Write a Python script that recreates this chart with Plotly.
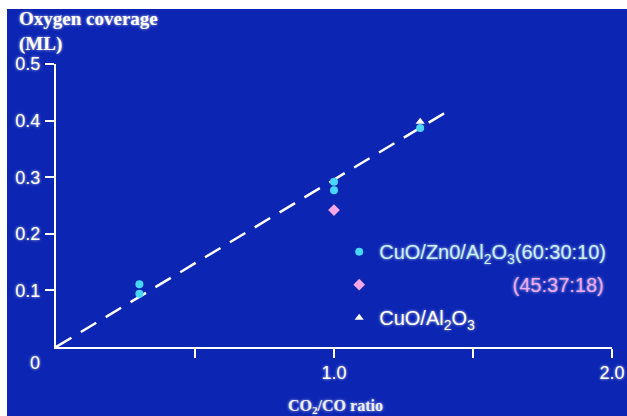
import plotly.graph_objects as go

# ---- data ----
zn_x = [0.3, 0.3, 1.0, 1.0, 1.31]
zn_y = [0.111, 0.094, 0.292, 0.277, 0.387]
mid_x = [1.0]
mid_y = [0.242]
al_x = [1.31]
al_y = [0.398]
fit_x = [0.0, 1.4]
fit_y = [0.0, 0.414]
x_ticks = [0.5, 1.0, 1.5, 2.0]
x_tick_labels = ["", "1.0", "", "2.0"]
y_ticks = [0.1, 0.2, 0.3, 0.4, 0.5]
y_tick_labels = ["0.1", "0.2", "0.3", "0.4", "0.5"]

BG = "#0c25b3"
GLOW = "0px 0px 3px rgba(255,255,255,0.75)"
SANS = "Liberation Sans, Arial, sans-serif"
SERIF = "Liberation Serif, Times New Roman, serif"
NB = "\u00a0"

fig = go.Figure()
fig.add_trace(go.Scatter(x=fit_x, y=fit_y, mode="lines", showlegend=False,
                         line=dict(color="white", width=2.5, dash="18px,11px")))
fig.add_trace(go.Scatter(
    x=zn_x, y=zn_y, mode="markers", legendgroup="a",
    name="<span style='color:#c4f2ff'>CuO/Zn0/Al<sub>2</sub>O<sub>3</sub>(60:30:10)</span>",
    marker=dict(symbol="circle", size=8, color="#48d6ff")))
fig.add_trace(go.Scatter(
    x=mid_x, y=mid_y, mode="markers", legendgroup="b",
    name="<span style='color:#f0a8f0'>" + NB * 24 + "(45:37:18)</span>",
    marker=dict(symbol="diamond", size=9, color="#f4a6e8")))
fig.add_trace(go.Scatter(
    x=al_x, y=al_y, mode="markers", legendgroup="c",
    name="CuO/Al<sub>2</sub>O<sub>3</sub>",
    marker=dict(symbol="triangle-up", size=8, color="white")))

axis_common = dict(showline=True, linecolor="white", linewidth=2, showgrid=False,
                   zeroline=False, ticks="outside", tickcolor="white", ticklen=9,
                   tickwidth=2,
                   tickfont=dict(family=SANS, size=18, color="white", shadow=GLOW))

fig.update_xaxes(range=[0, 2.0], tickvals=x_ticks, ticktext=x_tick_labels,
                 ticklabelstandoff=-1, **axis_common)
fig.update_yaxes(range=[0, 0.5], tickvals=y_ticks, ticktext=y_tick_labels,
                 ticklabelstandoff=1, **axis_common)

fig.update_layout(
    width=627, height=416,
    margin=dict(l=56, r=15, t=64, b=69, autoexpand=False),
    paper_bgcolor=BG, plot_bgcolor=BG,
    legend=dict(xref="container", yref="container", x=0.541, y=0.442,
                xanchor="left", yanchor="top",
                bgcolor="rgba(0,0,0,0)", tracegroupgap=4,
                font=dict(family=SANS, size=20, color="white", shadow=GLOW)),
    annotations=[
        dict(text="<b>Oxygen coverage<br>(ML)</b>", xref="paper", yref="paper",
             x=-0.07, y=1.205, xanchor="left", yanchor="top", align="left",
             showarrow=False,
             font=dict(family=SERIF, size=19, color="white", shadow=GLOW)),
        dict(text="<b>CO<sub>2</sub>/CO ratio</b>", xref="paper", yref="paper",
             x=0.503, y=-0.212, xanchor="center", yanchor="middle",
             showarrow=False,
             font=dict(family=SERIF, size=16, color="#eef0ff", shadow=GLOW)),
        dict(text="0", xref="paper", yref="paper", x=-0.038, y=-0.058,
             xanchor="center", yanchor="middle", showarrow=False,
             font=dict(family=SANS, size=18, color="white", shadow=GLOW)),
    ],
    shapes=[
        dict(type="rect", xref="paper", yref="paper", layer="above",
             x0=-56 / 556, x1=1 + 15 / 556, y0=1 + (64 - 9) / 283, y1=1 + 64 / 283,
             fillcolor="white", line=dict(width=0)),
        dict(type="rect", xref="paper", yref="paper", layer="above",
             x0=-56 / 556, x1=-49 / 556, y0=-69 / 283, y1=1 + 64 / 283,
             fillcolor="white", line=dict(width=0)),
    ],
)

fig.write_html("out.html", config={"displayModeBar": False})
